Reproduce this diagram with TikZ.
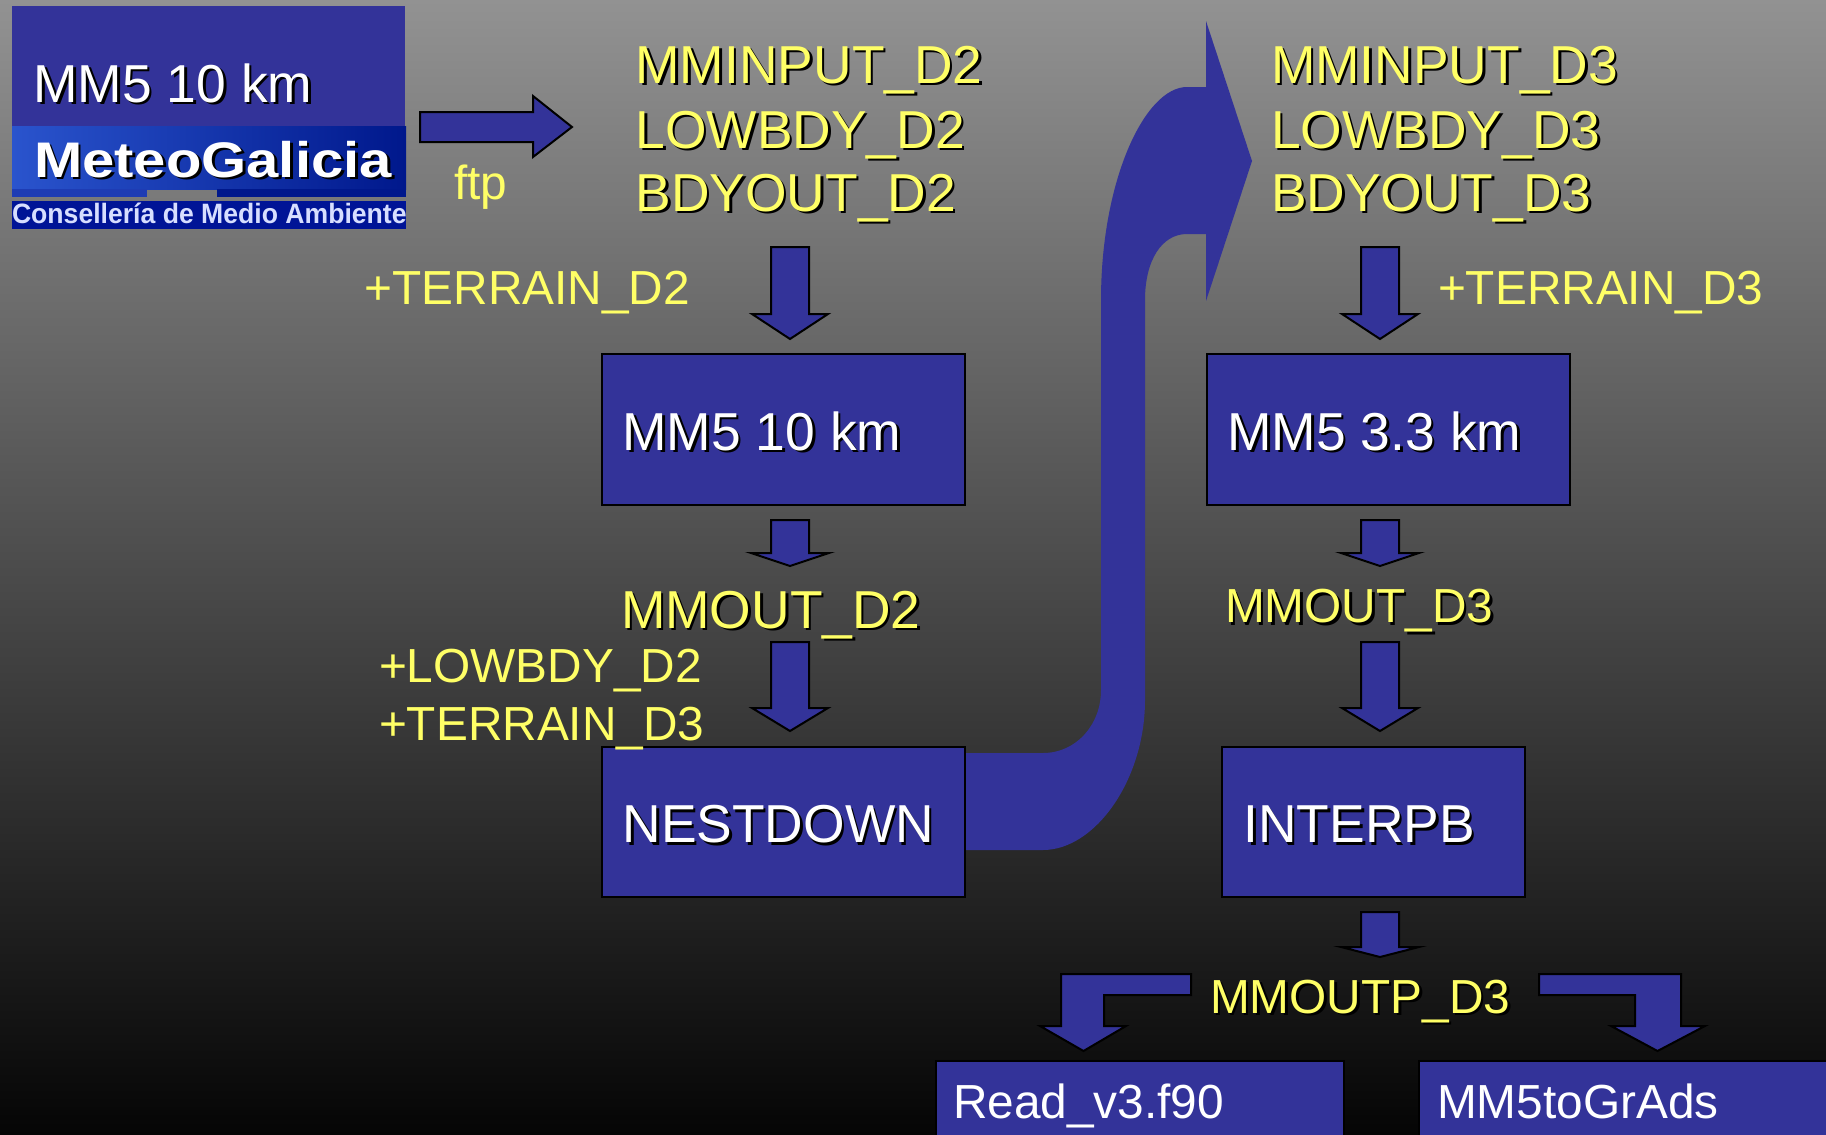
\documentclass[tikz,border=0pt]{standalone}
\usepackage{fontspec}
\setmainfont{Liberation Sans}
\definecolor{boxblue}{HTML}{333399}
\definecolor{txtyellow}{HTML}{FFFF66}
\definecolor{bgtop}{HTML}{929292}
\definecolor{bgbot}{HTML}{050505}
\definecolor{logolight}{HTML}{2A54CD}
\definecolor{logodark}{HTML}{00188C}
\definecolor{logomid}{HTML}{1E3CB4}
\definecolor{logolow}{HTML}{001496}
\definecolor{logotxt}{HTML}{D7DEFF}
\newlength{\pxu}\setlength{\pxu}{0.5pt}
\newcommand{\shtxt}[2]{\makebox[0pt][l]{\hspace{2.5\pxu}\raisebox{-2.5\pxu}{\textcolor{black}{#2}}}\textcolor{#1}{#2}}
\tikzset{
  x=0.5pt,y=-0.5pt,
  blk/.style={draw=black,line width=1pt,fill=boxblue,line join=miter},
  flat/.style={fill=boxblue,draw=none},
  lbl/.style={anchor=base west,inner sep=0pt,outer sep=0pt},
  big/.style={lbl,font=\fontsize{26.7pt}{30pt}\selectfont},
  small/.style={lbl,font=\fontsize{23.9pt}{28pt}\selectfont},
  arr/.style={blk,line width=1pt}
}
\newcommand{\downarr}[5]{% cx, top, headtop, tip, halfhead
  \draw[arr] (#1-19,#2) -- (#1+19,#2) -- (#1+19,#3) -- (#1+#5,#3) -- (#1,#4) -- (#1-#5,#3) -- (#1-19,#3) -- cycle;}
\begin{document}
\begin{tikzpicture}
\useasboundingbox (0,0) rectangle (1826,1135);
\shade[top color=bgtop,bottom color=bgbot] (0,0) rectangle (1826,1135);
% top-left title and logo
\fill[boxblue] (12,6) rectangle (405,126);
\node[big] (t0) at (33.5,102) {\shtxt{white}{MM5 10 km}};
\shade[left color=logolight,right color=logodark] (12,126) rectangle (406,189);
\fill[logomid] (12,189) rectangle (147,197);
\fill[logodark] (217,189) rectangle (406,197);
\fill[logolow] (12,201) rectangle (406,229);
\node[lbl,font=\fontsize{25pt}{28pt}\selectfont\bfseries,xscale=1.16] (logoa) at (34,177) {\shtxt{white}{MeteoGalicia}};
\node[lbl,font=\fontsize{14pt}{16pt}\selectfont\bfseries,xscale=0.95,text=logotxt] (logob) at (12,223) {Consellería de Medio Ambiente};
% ftp arrow
\draw[arr] (420,112) -- (533,112) -- (533,96) -- (572,127) -- (533,157) -- (533,142) -- (420,142) -- cycle;
\node[small] (ftp) at (454,199) {\textcolor{txtyellow}{ftp}};
% big curved arrow
\fill[flat] (964,753) -- (1043,753) .. controls (1076,753) and (1101,725) .. (1101,690) -- (1101,300)
  .. controls (1101,180) and (1145,87) .. (1187,87) -- (1206,87) -- (1206,21) -- (1252,161) -- (1206,301) -- (1206,234) -- (1187,234)
  .. controls (1162,234) and (1145,260) .. (1145,300) -- (1145,700)
  .. controls (1145,780) and (1095,850) .. (1043,850) -- (964,850) -- cycle;
% boxes
\node[blk,minimum width=363\pxu,minimum height=151\pxu,inner sep=0pt,anchor=north west] (b1) at (601,352.5) {};
\node[blk,minimum width=363\pxu,minimum height=151\pxu,inner sep=0pt,anchor=north west] (b2) at (1205.5,352.5) {};
\node[blk,minimum width=363\pxu,minimum height=150\pxu,inner sep=0pt,anchor=north west] (b3) at (601,746) {};
\node[blk,minimum width=303\pxu,minimum height=150\pxu,inner sep=0pt,anchor=north west] (b4) at (1221,746) {};
\node[blk,minimum width=408\pxu,minimum height=92\pxu,inner sep=0pt,anchor=north west] (b5) at (934.5,1060) {};
\node[blk,minimum width=420\pxu,minimum height=92\pxu,inner sep=0pt,anchor=north west] (b6) at (1418,1060) {};
% straight arrows
\downarr{790}{247}{314}{339}{38}
\downarr{790}{520}{553}{566}{39}
\downarr{790}{642}{708}{731}{38}
\downarr{1380}{247}{314}{339}{38}
\downarr{1380}{520}{553}{566}{39}
\downarr{1380}{642}{708}{731}{38}
\downarr{1380}{912}{947}{957}{39}
% bent arrows
\draw[arr] (1191,974) -- (1061,974) -- (1061,1026) -- (1040,1026) -- (1083.5,1051) -- (1126,1026) -- (1104,1026) -- (1104,995) -- (1191,995) -- cycle;
\draw[arr] (1539,974) -- (1681,974) -- (1681,1026) -- (1705,1026) -- (1657.5,1051) -- (1611,1026) -- (1635,1026) -- (1635,995) -- (1539,995) -- cycle;
% labels
\node[big] (a1) at (635.5,83) {\shtxt{txtyellow}{MMINPUT\_D2}};
\node[big] (a2) at (635.5,148) {\shtxt{txtyellow}{LOWBDY\_D2}};
\node[big] (a3) at (635.5,211) {\shtxt{txtyellow}{BDYOUT\_D2}};
\node[big] (c1) at (1271,83) {\shtxt{txtyellow}{MMINPUT\_D3}};
\node[big] (c2) at (1271,148) {\shtxt{txtyellow}{LOWBDY\_D3}};
\node[big] (c3) at (1271,211) {\shtxt{txtyellow}{BDYOUT\_D3}};
\node[small] (t2) at (364.5,304) {\textcolor{txtyellow}{+TERRAIN\_D2}};
\node[small] (t3) at (1438,304) {\textcolor{txtyellow}{+TERRAIN\_D3}};
\node[big] (l1) at (622.5,450) {\shtxt{white}{MM5 10 km}};
\node[big] (l2) at (1227.5,450) {\shtxt{white}{MM5 3.3 km}};
\node[big] (o2) at (621,628) {\shtxt{txtyellow}{MMOUT\_D2}};
\node[small] (o3) at (1225,622.5) {\shtxt{txtyellow}{MMOUT\_D3}};
\node[small] (p1) at (379,682.5) {\textcolor{txtyellow}{+LOWBDY\_D2}};
\node[small] (p2) at (379,740.5) {\textcolor{txtyellow}{+TERRAIN\_D3}};
\node[big] (l3) at (622.5,842.5) {\shtxt{white}{NESTDOWN}};
\node[big] (l4) at (1243.5,842.5) {\shtxt{white}{INTERPB}};
\node[small] (o4) at (1210,1013) {\shtxt{txtyellow}{MMOUTP\_D3}};
\node[small] (l5) at (953,1118) {\textcolor{white}{Read\_v3.f90}};
\node[small] (l6) at (1437,1118) {\textcolor{white}{MM5toGrAds}};
\end{tikzpicture}
\end{document}
